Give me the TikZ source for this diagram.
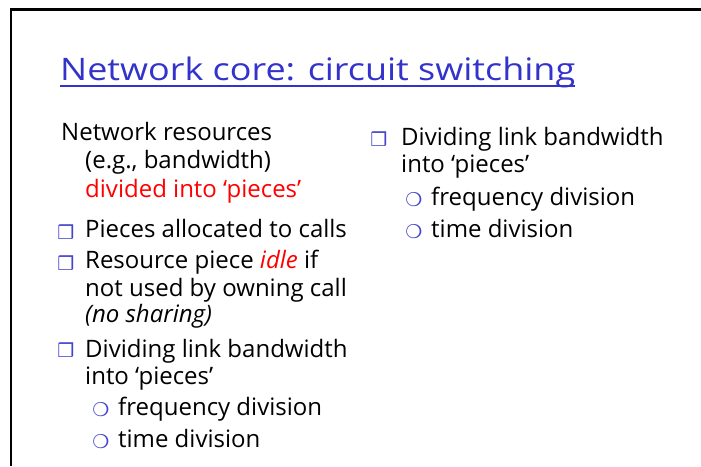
\documentclass[tikz,border=0pt]{standalone}
\usepackage{fontspec}
\setmainfont{Open Sans}
\newfontfamily\titlefont[FakeStretch=1.16]{Open Sans}
\newfontfamily\symfont{DejaVu Sans}
\usetikzlibrary{positioning}

\definecolor{titleblue}{HTML}{3333CC}
\definecolor{bulletblue}{HTML}{4444CC}
\definecolor{hotred}{HTML}{FF0000}

\tikzset{
  line/.style={anchor=base west, inner sep=0pt, font=\fontsize{24}{28}\selectfont},
  sub/.style={line},
  sqbullet/.style={inner sep=0pt, text=bulletblue, font=\symfont\fontsize{19}{19}\selectfont},
  cbullet/.style={inner sep=0pt, text=bulletblue, font=\symfont\fontsize{19}{19}\selectfont},
}

\begin{document}
\begin{tikzpicture}[x=1pt,y=-1pt]
  \useasboundingbox (0,0) rectangle (701,466);
  \fill[white] (0,0) rectangle (701,466);

  % slide frame (top and left edges)
  \draw[line width=2.6pt] (701,9.5) -| (11,466);

  % title
  \node[anchor=base west, inner sep=0pt, text=titleblue,
        font=\titlefont\fontsize{31}{34}\selectfont] (title) at (60,80) {Network core: circuit switching};
  \draw[titleblue, line width=1.8pt] ([yshift=-6pt]title.base west) -- ([yshift=-6pt]title.base east);

  % left column
  \node[line] (l1) at (61,140) {Network resources};
  \node[line] (l2) at (85,168) {(e.g., bandwidth)};
  \node[line, text=hotred] (l3) at (85,197) {divided into ‘pieces’};

  \node[sqbullet] (b1) at (66,232) {❒};
  \node[line] (l4) at (85,237) {Pieces allocated to calls};

  \node[sqbullet] (b2) at (66,263) {❒};
  \node[line] (l5) at (85,268) {Resource piece \textcolor{hotred}{\itshape idle} if};
  \node[line] (l6) at (85,296) {not used by owning call};
  \node[line, font=\fontsize{24}{28}\selectfont\itshape] (l7) at (85,322) {(no sharing)};

  \node[sqbullet] (b3) at (66,350) {❒};
  \node[line] (l8) at (85,357) {Dividing link bandwidth};
  \node[line] (l9) at (85,384) {into ‘pieces’};

  \node[cbullet] (c1) at (101,410) {❍};
  \node[sub] (l10) at (118,415) {frequency division};
  \node[cbullet] (c2) at (101,442) {❍};
  \node[sub] (l11) at (118,447) {time division};

  % right column
  \node[sqbullet] (b4) at (379,139) {❒};
  \node[line] (r1) at (401,145) {Dividing link bandwidth};
  \node[line] (r2) at (401,172) {into ‘pieces’};
  \node[cbullet] (c3) at (414,200) {❍};
  \node[sub] (r3) at (431,205) {frequency division};
  \node[cbullet] (c4) at (414,232) {❍};
  \node[sub] (r4) at (431,237) {time division};
\end{tikzpicture}
\end{document}
